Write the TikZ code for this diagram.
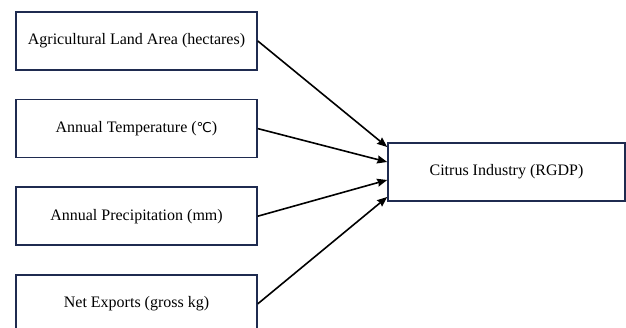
\documentclass[tikz,border=0pt]{standalone}
\usepackage{fontspec}
\setmainfont{Liberation Serif}
\newfontfamily\degfont[Scale=0.85]{DejaVu Sans}
\usepackage{tikz}
\usetikzlibrary{arrows.meta, positioning, calc}
\definecolor{boxnavy}{HTML}{1F2B50}

\begin{document}
\begin{tikzpicture}[
    x=1pt, y=1pt,
    node distance=28pt,
    factor/.style={draw=boxnavy, line width=1.6pt, fill=white, minimum width=241pt,
                   minimum height=58pt, inner sep=0pt, font=\fontsize{16}{19}\selectfont},
    arr/.style={-{Stealth[length=10pt, width=8pt, inset=1pt]}, line width=1.6pt, black},
]
\useasboundingbox (0,0) rectangle (626,-328);

% Factors
\node[factor] at (136.5,-41) (land) {Agricultural Land Area (hectares)};
\node[factor, below=of land]  (temp) {Annual Temperature ({\degfont ℃})};
\node[factor, below=of temp]  (prec) {Annual Precipitation (mm)};
\node[factor, below=of prec]  (expo) {Net Exports (gross kg)};

% Outcome
\node[factor, minimum width=237pt] at (506.5,-172) (cit) {Citrus Industry (RGDP)};

% Arrows
\draw[arr] (land.east) -- ($(cit.west)+(0,25)$);
\draw[arr] (temp.east) -- ($(cit.west)+(0,10)$);
\draw[arr] (prec.east) -- ($(cit.west)+(0,-8)$);
\draw[arr] (expo.east) -- ($(cit.west)+(0,-25)$);
\end{tikzpicture}
\end{document}
